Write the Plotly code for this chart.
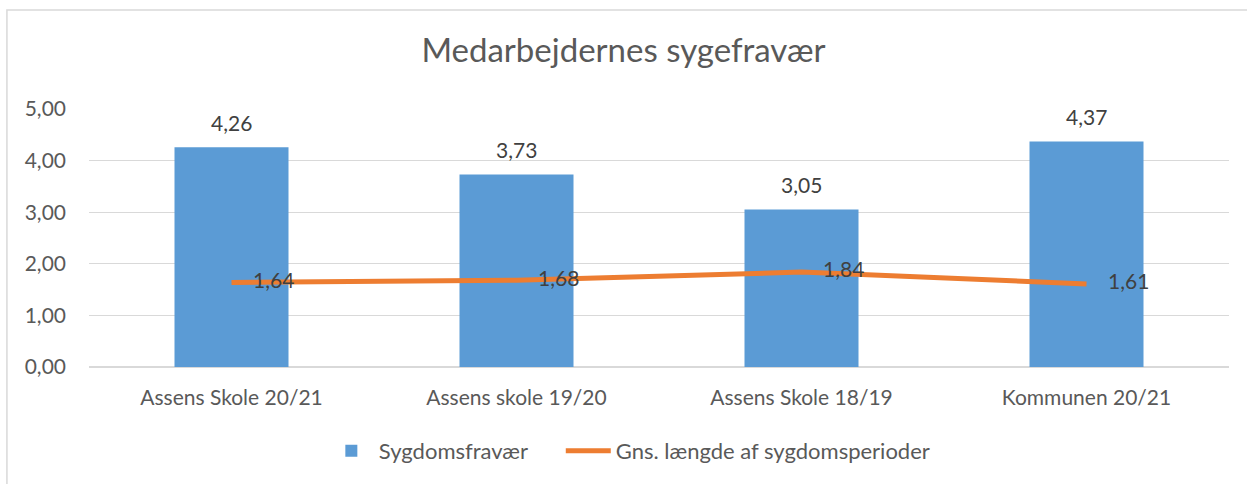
import plotly.graph_objects as go

categories = ["Assens Skole 20/21", "Assens skole 19/20", "Assens Skole 18/19", "Kommunen 20/21"]
sygdomsfravaer = [4.26, 3.73, 3.05, 4.37]
gns_laengde = [1.64, 1.68, 1.84, 1.61]
tick_vals = [0, 1, 2, 3, 4, 5]

font = "Lato"
grey = "#595959"

fig = go.Figure()
fig.add_bar(
    x=categories,
    y=sygdomsfravaer,
    name="Sygdomsfravær" + "\u00a0" * 5,  # padding to space the legend entries
    marker_color="#5B9BD5",
    marker_line_width=0,
)
fig.add_scatter(
    x=categories,
    y=gns_laengde,
    name="Gns. længde af sygdomsperioder",
    mode="lines+text",
    line=dict(color="#ED7D31", width=5),
    texttemplate="    %{y:.2f}",
    textposition="middle right",
    textfont=dict(size=21, color="#404040"),
)

# bar value labels, a bit above the bars (Excel style)
for cat, val in zip(categories, sygdomsfravaer):
    fig.add_annotation(
        x=cat, y=val, yanchor="middle", yshift=25,
        text=f"{val:.2f}".replace(".", ","),
        showarrow=False,
        font=dict(size=21, color="#404040"),
    )

fig.update_yaxes(
    range=[0, 5],
    tickvals=tick_vals,
    tickformat=".2f",
    showgrid=True,
    gridcolor="#D9D9D9",
    gridwidth=1,
    zeroline=True,
    zerolinecolor="#D9D9D9",
    showline=False,
    ticks="",
    tickfont=dict(size=21, color=grey),
    ticklabelstandoff=22,
)
fig.update_xaxes(
    showline=False,
    ticks="",
    tickfont=dict(size=21, color=grey),
    ticklabelstandoff=16,
)
fig.add_shape(
    type="rect", xref="paper", yref="paper",
    x0=-0.072, x1=1.1, y0=-0.6, y1=1.384,
    line=dict(color="#D9D9D9", width=1.5),
)
fig.update_layout(
    width=1247,
    height=484,
    margin=dict(l=89, r=18, t=109, b=117),
    title=dict(
        text="Medarbejdernes sygefravær",
        x=0.5, xanchor="center",
        y=0.895, yanchor="middle",
        font=dict(family=font, size=33, color=grey),
    ),
    font=dict(family=font, color=grey),
    separators=",.",
    bargap=0.6,
    plot_bgcolor="white",
    paper_bgcolor="white",
    legend=dict(
        orientation="h",
        x=0.206, xanchor="left",
        y=-0.325, yanchor="middle",
        font=dict(size=22, color=grey),
        itemwidth=45,
    ),
)
fig.write_html(
    "out.html",
    config={"displayModeBar": False},
    post_script="document.body.style.margin='0';",
)
